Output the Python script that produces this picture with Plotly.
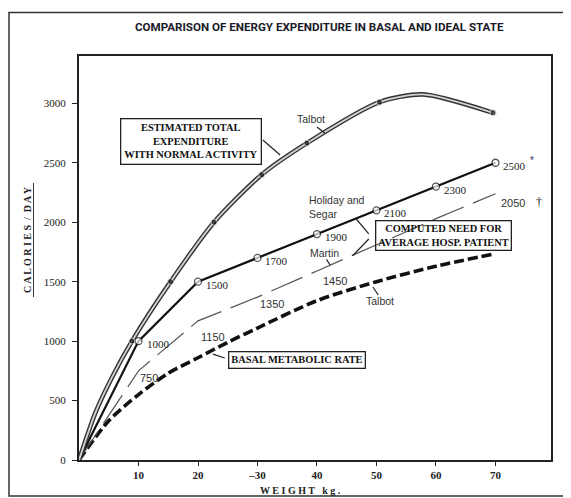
import numpy as np
import plotly.graph_objects as go

# ---------------- data ----------------
# Holliday and Segar (open circles)
hs_kg = [0, 10, 20, 30, 40, 50, 60, 70]
hs_cal = [0, 1000, 1500, 1700, 1900, 2100, 2300, 2500]

# Talbot - estimated total expenditure with normal activity
tt_kg = [0, 2.7, 5.5, 8.9, 15.4, 22.7, 30.7, 38.3, 50.5, 57.8, 69.6]
tt_cal = [0, 390, 690, 1000, 1500, 2000, 2400, 2665, 3010, 3075, 2920]
tt_dot = [False, False, False, True, True, True, True, True, True, False, True]

# Martin - computed need for average hospital patient
m_kg = [0, 10, 20, 30, 40, 50, 60, 70]
m_cal = [0, 750, 1170, 1370, 1590, 1810, 2030, 2240]
m_label_kg = [10, 20, 30, 40, 70]
m_label_text = ["750", "1150", "1350", "1450", "2050"]

# Talbot - basal metabolic rate
bmr_kg = [0, 5, 10, 15, 20, 25, 30, 40, 50, 60, 70]
bmr_cal = [0, 330, 550, 730, 860, 990, 1110, 1340, 1500, 1630, 1735]

# axes
x_tickvals = [10, 20, 30, 40, 50, 60, 70]
x_ticktext = ["10", "20", "\u201330", "40", "50", "60", "70"]
y_tickvals = [0, 500, 1000, 1500, 2000, 2500, 3000]
y_ticktext = ["0", "500", "1000", "1500", "2000", "2500", "3000"]

# ---------------- styles ----------------
SERIF = "Liberation Serif, DejaVu Serif, serif"
SANS = "Liberation Sans, Arial, sans-serif"
TITLE_FONT = "Liberation Sans Narrow, Roboto, Liberation Sans, sans-serif"
XR = [0, 79.33]
YR = [0, 3398]

fig = go.Figure()

fig.add_trace(go.Scatter(
    x=bmr_kg, y=bmr_cal, mode="lines",
    line=dict(color="#111", width=3.6, dash="10px,4px", shape="spline", smoothing=0.8),
    hoverinfo="skip", showlegend=False))

fig.add_trace(go.Scatter(
    x=m_kg, y=m_cal, mode="lines",
    line=dict(color="#555", width=1.2, dash="34px,10px"),
    hoverinfo="skip", showlegend=False))

fig.add_trace(go.Scatter(
    x=hs_kg, y=hs_cal, mode="lines+markers",
    line=dict(color="#111", width=2.2),
    marker=dict(symbol="circle", size=[0] + [7] * (len(hs_kg) - 1), color="white",
                line=dict(color="#111", width=1.3)),
    hoverinfo="skip", showlegend=False))

fig.add_trace(go.Scatter(
    x=tt_kg, y=tt_cal, mode="lines",
    line=dict(color="#333", width=4.6, shape="spline", smoothing=0.7),
    hoverinfo="skip", showlegend=False))

fig.add_trace(go.Scatter(
    x=tt_kg, y=tt_cal, mode="lines+markers",
    line=dict(color="#d4d4d4", width=1.8, shape="spline", smoothing=0.7),
    marker=dict(size=[6 if d else 0 for d in tt_dot], color="#111"),
    hoverinfo="skip", showlegend=False))

ann = []
# Holliday & Segar value labels
for kg, cal in zip(hs_kg[1:], hs_cal[1:]):
    ann.append(dict(x=kg, y=cal, text=str(cal), showarrow=False, xanchor="left",
                    xshift=6, yshift=-3, font=dict(family=SERIF, size=11, color="#222")))
# Martin value labels
m_shift = [(10, -7), (14.5, -16), (14.5, -7), (18, -10), (17.5, -9)]
for kg, txt, (sx, sy) in zip(m_label_kg, m_label_text, m_shift):
    ann.append(dict(x=kg, y=float(np.interp(kg, m_kg, m_cal)), text=txt, showarrow=False,
                    xshift=sx, yshift=sy, font=dict(family=SANS, size=11, color="#333")))

box_font = dict(family=SERIF, size=10.4, color="#111")
P = dict(xref="paper", yref="paper", showarrow=False, xanchor="center", yanchor="middle")
ann += [
    dict(x=0.5095, y=1.071, **P,
         text="<b>COMPARISON OF ENERGY EXPENDITURE IN BASAL AND IDEAL STATE</b>",
         font=dict(family=TITLE_FONT, size=11.6, color="#1a1a2a")),
    dict(x=-0.108, y=0.5446, **P, textangle=-90,
         text="<b>C A L O R I E S  /  D A Y</b>", font=dict(family=SERIF, size=10, color="#222")),
    dict(x=0.470, y=-0.0743, **P,
         text="<b>W E I G H T   k g .</b>", font=dict(family=SERIF, size=10, color="#222")),
    dict(x=18.82, y=2683, showarrow=False, text="<b>ESTIMATED TOTAL<br>EXPENDITURE<br>WITH NORMAL ACTIVITY</b>",
         font=box_font, bordercolor="#222", borderwidth=1.3, borderpad=3),
    dict(x=61.2, y=1892, showarrow=False, text="<b>COMPUTED NEED FOR<br>AVERAGE HOSP. PATIENT</b>",
         font=box_font, bordercolor="#222", borderwidth=1.3, borderpad=2),
    dict(x=36.6, y=841, showarrow=False, text="<b>BASAL METABOLIC RATE</b>",
         font=box_font, bordercolor="#222", borderwidth=1.3, borderpad=2),
    dict(x=39.0, y=2868, showarrow=False, text="Talbot", font=dict(family=SANS, size=10.5, color="#333")),
    dict(x=50.6, y=1337, showarrow=False, text="Talbot", font=dict(family=SANS, size=10.5, color="#333")),
    dict(x=41.3, y=1741, showarrow=False, text="Martin", font=dict(family=SANS, size=10.5, color="#333")),
    dict(x=38.3, y=2128, showarrow=False, xanchor="left", align="left", text="Holiday and<br>Segar",
         font=dict(family=SANS, size=10.5, color="#333")),
    dict(x=76.1, y=2523, showarrow=False, text="*", font=dict(family=SANS, size=10, color="#335")),
    dict(x=77.3, y=2170, showarrow=False, text="\u2020", font=dict(family=SERIF, size=12, color="#111")),
]

lc = dict(color="#222", width=1.2)
leaders = [
    ((30.9, 2692), (33.8, 2565)),
    ((40.0, 2801), (41.3, 2750)),
    ((46.6, 2027), (48.7, 1901)),
    ((48.7, 1859), (46.0, 1718)),
    ((41.6, 1688), (42.2, 1640)),
    ((49.4, 1455), (50.3, 1388)),
    ((24.5, 858), (22.5, 891)),
]
shapes = [dict(type="line", xref="x", yref="y", x0=a[0], y0=a[1], x1=b[0], y1=b[1], line=lc)
          for a, b in leaders]
# outer picture border and y-title underline
shapes.append(dict(type="rect", xref="paper", yref="paper", x0=-0.1483, x1=1.0297,
                   y0=-0.0891, y1=1.1077, line=dict(color="#333", width=1.5)))
shapes.append(dict(type="line", xref="paper", yref="paper", x0=-0.0964, x1=-0.0964,
                   y0=0.4035, y1=0.6856, line=dict(color="#333", width=1)))

tick_font = dict(family=SERIF, size=11, color="#222")
fig.update_layout(
    width=563, height=490,
    margin=dict(l=71, r=20, t=48, b=38),
    paper_bgcolor="white", plot_bgcolor="white",
    annotations=ann, shapes=shapes,
    xaxis=dict(range=XR, tickvals=x_tickvals, ticktext=x_ticktext, ticks="outside", ticklen=4,
               tickcolor="#222", showline=True, linecolor="#222", linewidth=2, mirror=True,
               showgrid=False, zeroline=False,
               tickfont=dict(family=SERIF, size=11, color="#222", weight="bold")),
    yaxis=dict(range=YR, tickvals=y_tickvals, ticktext=y_ticktext, ticks="outside", ticklen=5,
               tickcolor="#222", showline=True, linecolor="#222", linewidth=2, mirror=True,
               showgrid=False, zeroline=False, tickfont=tick_font, ticklabelstandoff=4),
    xaxis2=dict(range=XR, overlaying="x", anchor="y", side="bottom", tickvals=x_tickvals,
                ticks="inside", ticklen=5, tickcolor="#222", mirror="ticks", showline=False,
                showticklabels=False, showgrid=False, zeroline=False),
    yaxis2=dict(range=YR, overlaying="y", anchor="x", side="left", tickvals=y_tickvals,
                ticks="inside", ticklen=5, tickcolor="#222", showline=False,
                showticklabels=False, showgrid=False, zeroline=False),
    yaxis3=dict(range=[-38.7, 3359.3], overlaying="y", anchor="x", side="right", tickvals=y_tickvals,
                ticks="inside", ticklen=6, tickcolor="#222", showline=False,
                showticklabels=False, showgrid=False, zeroline=False),
)

fig.write_html("out.html")
